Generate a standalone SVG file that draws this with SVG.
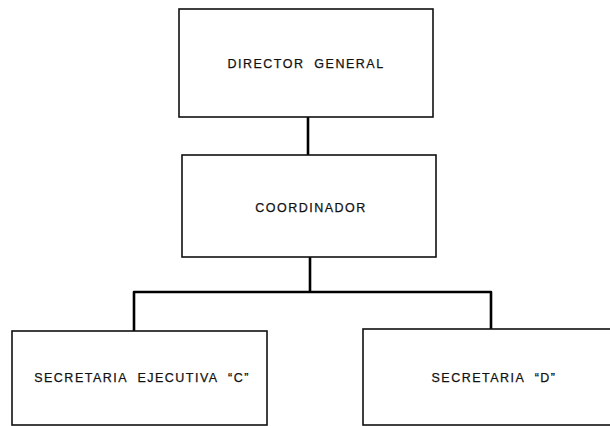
<svg xmlns="http://www.w3.org/2000/svg" width="610" height="426" viewBox="0 0 610 426">
  <style>
    .box { fill: #ffffff; stroke: #111111; stroke-width: 1.6; }
    .link { fill: none; stroke: #000000; stroke-width: 2.6; stroke-linejoin: round; }
    .label { font-family: "Liberation Sans", Arial, sans-serif; font-size: 12.5px; fill: #111111; stroke: #111111; stroke-width: 0.25; letter-spacing: 1.5px; text-anchor: middle; white-space: pre; }
  </style>
  <rect width="610" height="426" fill="#ffffff"/>

  <!-- connectors -->
  <g id="connectors">
    <line class="link" x1="308" y1="117" x2="308" y2="155"/>
    <line class="link" x1="310" y1="257" x2="310" y2="292"/>
    <polyline class="link" points="134,331 134,292 491,292 491,329"/>
  </g>

  <!-- nodes -->
  <g id="director-general">
    <rect class="box" x="179" y="9" width="254" height="108"/>
    <text class="label" x="306" y="68" xml:space="preserve">DIRECTOR  GENERAL</text>
  </g>
  <g id="coordinador">
    <rect class="box" x="182" y="155" width="254" height="102"/>
    <text class="label" x="311" y="212">COORDINADOR</text>
  </g>
  <g id="secretaria-c">
    <rect class="box" x="12" y="331" width="255" height="94"/>
    <text class="label" x="142" y="382" xml:space="preserve">SECRETARIA  EJECUTIVA  “C”</text>
  </g>
  <g id="secretaria-d">
    <rect class="box" x="363" y="329" width="250" height="96"/>
    <text class="label" x="494" y="382" xml:space="preserve">SECRETARIA  “D”</text>
  </g>
</svg>
